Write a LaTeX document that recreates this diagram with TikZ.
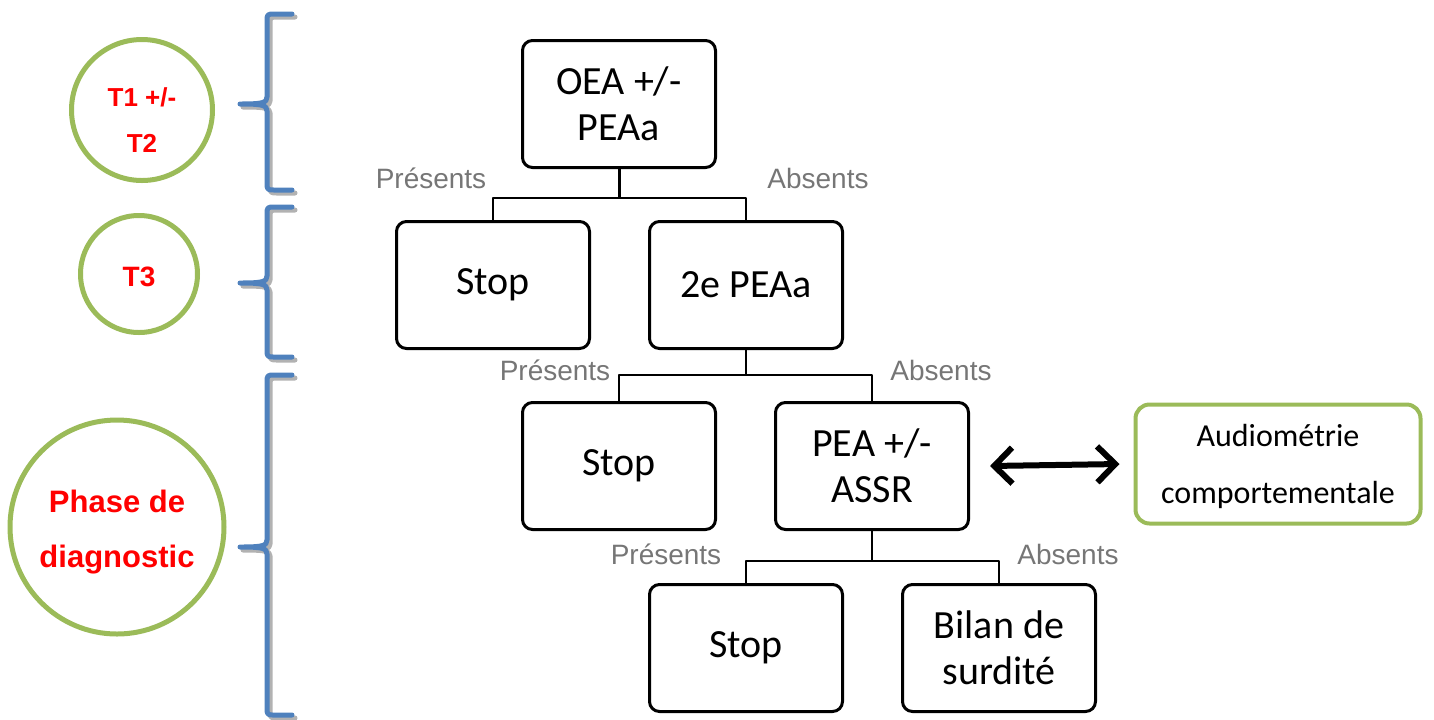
\documentclass[tikz,border=0pt]{standalone}
\usepackage{fontspec}
\setmainfont{Carlito}
\newfontfamily\arialfont{Liberation Sans}
\usetikzlibrary{arrows.meta}
\definecolor{brblue}{RGB}{79,129,189}
\definecolor{olgreen}{RGB}{155,187,89}
\definecolor{labgray}{RGB}{118,118,118}
\tikzset{
  box/.style={draw,line width=1.5pt,rounded corners=5pt,minimum width=96.5pt,minimum height=63.5pt,align=center,font=\fontsize{20}{23}\selectfont},
  lab/.style={text=labgray,anchor=base,inner sep=0pt,font=\arialfont\fontsize{14}{16}\selectfont},
  ring/.style={draw=olgreen,line width=2.5pt,circle,inner sep=0pt},
  redtxt/.style={text=red,align=center,font=\arialfont\bfseries},
  brc/.style={draw=brblue,line width=2.5pt,line cap=round},
  brcshade/.style={draw=gray!60,line width=2.5pt,line cap=round},
  link/.style={draw,line width=1pt}
}
\begin{document}
\begin{tikzpicture}[x=0.5pt,y=-0.5pt,line join=round]
	\useasboundingbox (0,0) rectangle (1434,719);
			% braces
			\foreach \t/\m/\b in {14/104/190,207/283/357,375/547/715}{
			\draw[brcshade] (295,\t+3) -- (278,\t+3) .. controls (270,\t+3) .. (270,\t+11) -- (270,\m-3) .. controls (270,\m+2) and (265,\m+3) .. (243,\m+3) .. controls (265,\m+3) and (270,\m+4) .. (270,\m+9) -- (270,\b-5) .. controls (270,\b+3) .. (278,\b+3) -- (295,\b+3);
			\draw[brc] (292,\t) -- (275,\t) .. controls (267,\t) .. (267,\t+8) -- (267,\m-7) .. controls (267,\m-1) and (262,\m) .. (240,\m) .. controls (262,\m) and (267,\m+1) .. (267,\m+7) -- (267,\b-8) .. controls (267,\b) .. (275,\b) -- (292,\b);
			}
			% circles
			\node[ring,minimum size=70.5pt] (c1) at (142,110) {};
			\node[redtxt,font=\arialfont\bfseries\fontsize{13}{23}\selectfont] (t12) at (142,120) {T1 +/-\\T2};
			\node[ring,minimum size=58.5pt] (c2) at (139,274) {};
			\node[redtxt,font=\arialfont\bfseries\fontsize{14}{16}\selectfont] (t3) at (139,277) {T3};
			\node[ring,minimum size=107pt] (c3) at (117,527) {};
			\node[redtxt,font=\arialfont\bfseries\fontsize{15.5}{27.5}\selectfont] (diag) at (117,532) {Phase de\\diagnostic};
			% tree
			\node[box] (oea) at (619,104) {OEA +/-\\PEAa};
			\node[box] (stopa) at (493,285) {Stop};
			\node[box] (peaa) at (746,285) {2e PEAa};
			\node[box] (stopb) at (619,466) {Stop};
			\node[box] (assr) at (872,466) {PEA +/-\\ASSR};
			\node[box] (stopc) at (746,648) {Stop};
			\node[box] (bilan) at (999,648) {Bilan de\\surdité};
			\draw[link,line width=1.5pt] (oea.south) -- ++(0,29);
			\draw[link] (oea.south) ++(0,29) -| (stopa.north);
			\draw[link] (oea.south) ++(0,29) -| (peaa.north);
			\draw[link] (peaa.south) -- ++(0,25) -| (stopb.north);
			\draw[link] (peaa.south) -- ++(0,25) -| (assr.north);
			\draw[link] (assr.south) -- ++(0,30) -| (stopc.north);
			\draw[link] (assr.south) -- ++(0,30) -| (bilan.north);
			\node[lab] (pa) at (431,188) {Présents};
			\node[lab] (aa) at (818,188) {Absents};
			\node[lab] (pb) at (555,380) {Présents};
			\node[lab] (ab) at (941,380) {Absents};
			\node[lab] (pc) at (666,564) {Présents};
			\node[lab] (ac) at (1068,564) {Absents};
			% side test
			\node[draw=olgreen,line width=2pt,rounded corners=7pt,minimum width=142.5pt,minimum height=59.5pt,align=center,text depth=0pt,font=\fontsize{16}{28.5}\selectfont] (audio) at (1278,464) {Audiométrie\\comportementale};
			\draw[line width=3pt,line cap=round,line join=round,{Straight Barb[length=9pt,width=18pt]}-{Straight Barb[length=9pt,width=18pt]}] ([xshift=10pt]assr.east) -- ([xshift=-7pt]audio.west);
	\end{tikzpicture}
\end{document}
